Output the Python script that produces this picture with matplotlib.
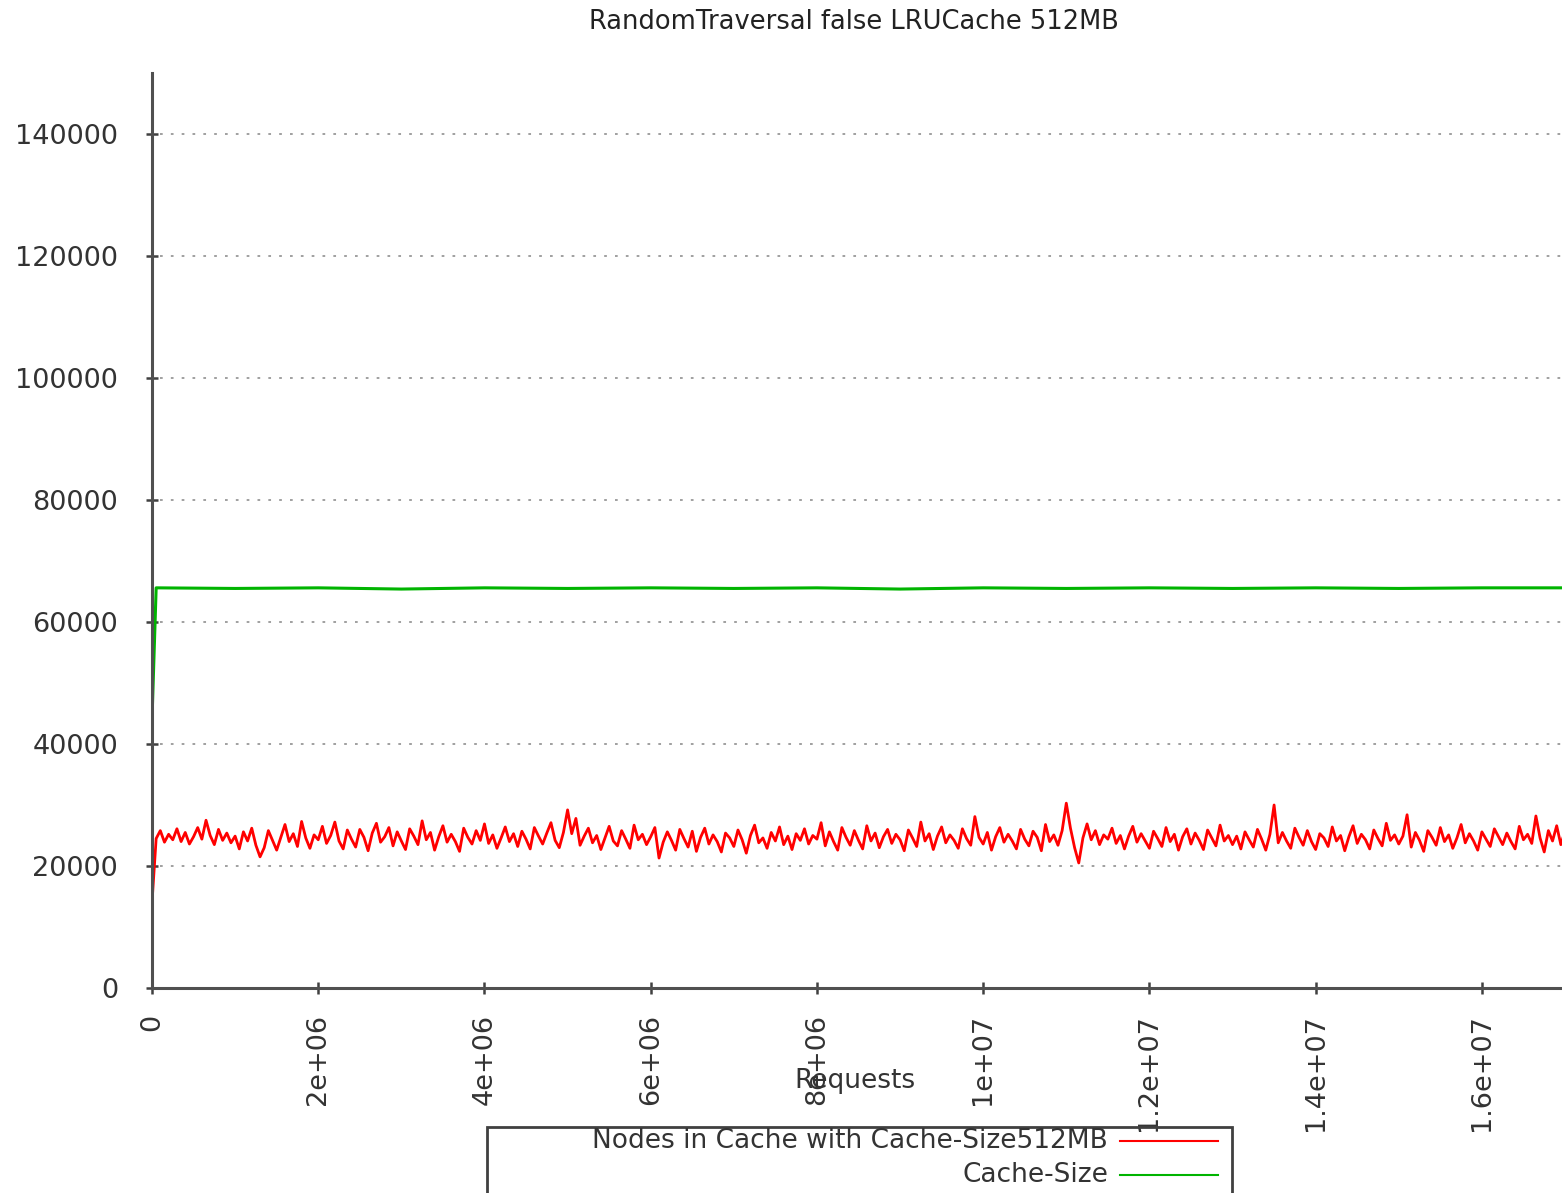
import numpy as np
import matplotlib
matplotlib.use("Agg")
import matplotlib.pyplot as plt
from matplotlib.lines import Line2D
from matplotlib.patches import Rectangle

# nodes in cache, one sample every 50000 requests
request_step = 50000
nodes_in_cache = [
    14000, 24500, 25800, 23900, 25200, 24300, 26100, 24000, 25500, 23600, 24800, 26300, 24400, 27500, 25000, 23500, 26000, 24200, 25400, 23800,
    24900, 22800, 25600, 24100, 26200, 23400, 21500, 23000, 25800, 24200, 22600, 24700, 26800, 24000, 25300, 23200, 27300, 24600, 22900, 25100,
    24300, 26500, 23700, 25000, 27200, 24100, 22800, 25900, 24400, 23100, 26000, 24700, 22500, 25400, 27000, 23900, 24800, 26300, 23300, 25600,
    24100, 22700, 26100, 24900, 23500, 27400, 24300, 25500, 22600, 24800, 26600, 23900, 25200, 24000, 22400, 26200, 24700, 23600, 25800, 24200,
    26900, 23700, 25100, 22900, 24600, 26400, 24000, 25300, 23200, 25700, 24400, 22800, 26300, 24900, 23600, 25400, 27100, 24200, 23000, 25500,
    29200, 25300, 27800, 23400, 24900, 26200, 23800, 25000, 22700, 24600, 26500, 24100, 23300, 25800, 24400, 22900, 26700, 24300, 25200, 23500,
    24800, 26300, 21300, 23900, 25600, 24200, 22600, 26000, 24500, 23100, 25700, 22400, 24700, 26200, 23600, 25100, 24000, 22300, 25400, 24600,
    23200, 25900, 24300, 22100, 25000, 26700, 23800, 24600, 22900, 25500, 24100, 26400, 23500, 24900, 22700, 25300, 24200, 26100, 23600, 25000,
    24400, 27100, 23300, 25600, 24000, 22600, 26300, 24700, 23400, 25800, 24200, 22800, 26600, 24100, 25400, 23000, 24800, 26000, 23700, 25200,
    24300, 22500, 25900, 24600, 23200, 27200, 24100, 25300, 22700, 24900, 26400, 23800, 25100, 24200, 22900, 26100, 24500, 23400, 28100, 24700,
    23600, 25500, 22600, 24800, 26300, 23900, 25200, 24100, 22800, 26000, 24400, 23300, 25700, 24700, 22500, 26800, 24000, 25100, 23400, 25800,
    30300, 26200, 23000, 20500, 24600, 26900, 24300, 25800, 23500, 25100, 24400, 26200, 23700, 25000, 22800, 24900, 26500, 23900, 25300, 24100,
    22900, 25700, 24500, 23200, 26300, 24000, 25200, 22600, 24800, 26100, 23600, 25400, 24200, 22700, 25900, 24600, 23300, 26700, 24100, 25000,
    23500, 24900, 22800, 25600, 24300, 23100, 26000, 24400, 22600, 25200, 30000, 23800, 25500, 24100, 22900, 26200, 24700, 23400, 25800, 24000,
    22700, 25300, 24600, 23200, 26400, 24100, 25000, 22500, 24800, 26600, 23700, 25200, 24300, 22800, 25900, 24500, 23300, 27000, 24200, 25100,
    23600, 24900, 28400, 23100, 25500, 24200, 22400, 25800, 24700, 23400, 26300, 24000, 25100, 22900, 24600, 26800, 23800, 25300, 24100, 22600,
    25600, 24400, 23200, 26100, 24800, 23500, 25400, 24000, 22800, 26500, 24300, 25200, 23700, 28200, 24600, 22300, 25800, 24100, 26600, 23500,
    25700,
]
requests = np.arange(len(nodes_in_cache)) * request_step

cache_size_requests = [0, 50000, 1000000, 2000000, 3000000, 4000000, 5000000, 6000000, 7000000, 8000000,
                       9000000, 10000000, 11000000, 12000000, 13000000, 14000000, 15000000, 16000000, 17000000]
cache_size = [44000, 65600, 65500, 65600, 65400, 65600, 65500, 65600, 65500, 65600,
              65400, 65600, 65500, 65600, 65500, 65600, 65500, 65600, 65600]

yticks = [0, 20000, 40000, 60000, 80000, 100000, 120000, 140000]
xticks = [0, 2e6, 4e6, 6e6, 8e6, 1e7, 1.2e7, 1.4e7, 1.6e7]
xtick_labels = ["0", "2e+06", "4e+06", "6e+06", "8e+06", "1e+07", "1.2e+07", "1.4e+07", "1.6e+07"]

W, H = 1562, 1193
fig = plt.figure(figsize=(W / 100, H / 100), dpi=100)
ax = fig.add_axes([152 / W, 1 - 988 / H, 1413 / W, 915 / H])

txt = "#333333"
ax.plot(requests, nodes_in_cache, color="#ff0000", lw=2.0)
ax.plot(cache_size_requests, cache_size, color="#00b400", lw=2.2)

ax.set_xlim(0, 1.7e7)
ax.set_ylim(0, 150000)
ax.set_yticks(yticks)
ax.set_yticklabels([str(v) for v in yticks])
ax.set_xticks(xticks)
ax.set_xticklabels(xtick_labels, rotation=90, va="top", ha="center")

for s in ["top", "right"]:
    ax.spines[s].set_visible(False)
for s in ["left", "bottom"]:
    ax.spines[s].set_color("#505050")
    ax.spines[s].set_linewidth(2.2)

ax.tick_params(axis="both", direction="inout", length=9, width=1.8, color="#404040",
               labelsize=19.5, labelcolor=txt)
ax.tick_params(axis="y", pad=20)
ax.tick_params(axis="x", pad=14)

for v in yticks[1:]:
    ax.axhline(v, color="#999999", lw=1.3, ls=(0, (1.5, 4.5)), xmin=0.006, zorder=0)

ax.set_xlabel("Requests", fontsize=19, color=txt, labelpad=0)
ax.xaxis.set_label_coords((855 - 152) / 1413, -(1068 - 988) / 915)

fig.text(854 / W, 1 - 22 / H, "RandomTraversal false LRUCache 512MB", ha="center", va="center",
         fontsize=18.5, color="#222222")

# legend box, cut at the bottom like the original
fig.patches.append(Rectangle((487 / W, 1 - 1215 / H), (1232 - 487) / W, (1215 - 1127) / H,
                             transform=fig.transFigure, fill=False, ec="#404040", lw=2))
legend_rows = [("Nodes in Cache with Cache-Size512MB", "#ff0000", 1141),
               ("Cache-Size", "#00b400", 1175)]
for label, col, yy in legend_rows:
    fig.text(1108 / W, 1 - yy / H, label, ha="right", va="center", fontsize=19, color=txt)
    fig.lines.append(Line2D([1120 / W, 1218 / W], [1 - yy / H, 1 - yy / H],
                            transform=fig.transFigure, color=col, lw=1.5))

fig.savefig("out.png", dpi=100)
